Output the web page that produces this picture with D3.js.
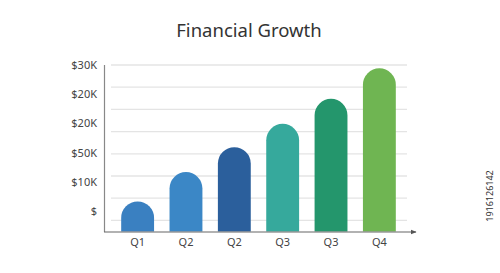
<!DOCTYPE html>
<html>
<head>
<meta charset="utf-8">
<script src="https://cdn.jsdelivr.net/npm/d3@7"></script>
<style>
  body { margin: 0; background: #fff; }
  text { font-family: "Noto Sans", "Open Sans", sans-serif; }
</style>
</head>
<body>
<div id="chart"></div>
<script>
// chart data
var quarters = ["Q1", "Q2", "Q2", "Q3", "Q3", "Q4"];
var values = [5.4, 10.7, 15.2, 19.4, 23.9, 29.4];
var barColors = ["#3a80c1", "#3b87c6", "#2b5f9c", "#36a99c", "#24966c", "#6fb552"];
var tickLabels = ["$", "$10K", "$50K", "$20K", "$20K", "$30K"];
var gridValues = [2, 6, 10, 14, 18, 22, 26, 30];

var svgWidth = 500;
var svgHeight = 273;

var svg = d3.select("#chart")
    .append("svg")
    .attr("width", svgWidth)
    .attr("height", svgHeight);

var baseY = 231.5;

var xScale = d3.scaleBand()
    .domain(d3.range(quarters.length))
    .range([112, 405])
    .paddingInner(0.32)
    .paddingOuter(0.19);

var yScale = d3.scaleLinear()
    .domain([0, 30])
    .range([baseY, 65]);

// tick labels sit on their own even spacing
var labelScale = d3.scalePoint()
    .domain(d3.range(tickLabels.length))
    .range([211, 65]);

// title
svg.append("text")
    .attr("x", 249)
    .attr("y", 37)
    .attr("text-anchor", "middle")
    .attr("font-size", "18.5px")
    .attr("fill", "#333")
    .text("Financial Growth");

// gridlines
svg.append("g").selectAll("line")
    .data(gridValues)
    .enter()
    .append("line")
    .attr("x1", 111)
    .attr("x2", 407)
    .attr("y1", d => yScale(d))
    .attr("y2", d => yScale(d))
    .attr("stroke", "#e4e4e4")
    .attr("stroke-width", 1.3);

// y labels
var leftAxis = d3.axisLeft(labelScale)
    .tickFormat(i => tickLabels[i])
    .tickSize(0)
    .tickPadding(0);

var yAxisG = svg.append("g")
    .attr("transform", "translate(97,0)")
    .call(leftAxis);
yAxisG.select(".domain").remove();
yAxisG.selectAll("text")
    .attr("font-size", "11px")
    .attr("fill", "#444")
    .style("font-family", "'Noto Sans', 'Open Sans', sans-serif");

// bars with rounded tops
function barPath(i) {
    var x0 = xScale(i);
    var w = xScale.bandwidth();
    var r = w / 2;
    var top = yScale(values[i]);
    return "M" + x0 + "," + baseY +
        "L" + x0 + "," + (top + r) +
        "A" + r + "," + r + " 0 0 1 " + (x0 + w) + "," + (top + r) +
        "L" + (x0 + w) + "," + baseY + "Z";
}

svg.append("g").selectAll("path")
    .data(d3.range(values.length))
    .enter()
    .append("path")
    .attr("d", d => barPath(d))
    .attr("fill", d => barColors[d]);

// axes lines
svg.append("defs").append("marker")
    .attr("id", "arrow")
    .attr("viewBox", "0 0 10 10")
    .attr("refX", 9)
    .attr("refY", 5)
    .attr("markerWidth", 5)
    .attr("markerHeight", 5)
    .attr("orient", "auto")
    .append("path")
    .attr("d", "M0,1L10,5L0,9Z")
    .attr("fill", "#555");

svg.append("line")
    .attr("x1", 104.5)
    .attr("x2", 104.5)
    .attr("y1", 65)
    .attr("y2", baseY + 0.5)
    .attr("stroke", "#888")
    .attr("stroke-width", 1.2);

svg.append("line")
    .attr("x1", 104)
    .attr("x2", 416)
    .attr("y1", baseY + 0.5)
    .attr("y2", baseY + 0.5)
    .attr("stroke", "#666")
    .attr("stroke-width", 1.2)
    .attr("marker-end", "url(#arrow)");

// x labels
var bottomAxis = d3.axisBottom(xScale)
    .tickFormat(i => quarters[i])
    .tickSize(0)
    .tickPadding(0);

var xAxisG = svg.append("g")
    .attr("transform", "translate(0,238)")
    .call(bottomAxis);
xAxisG.select(".domain").remove();
xAxisG.selectAll("text")
    .attr("font-size", "11px")
    .attr("fill", "#444")
    .style("font-family", "'Noto Sans', 'Open Sans', sans-serif");

// stock id along the right edge
svg.append("text")
    .attr("transform", "translate(493,196) rotate(-90)")
    .attr("text-anchor", "middle")
    .attr("font-size", "9px")
    .attr("fill", "#333")
    .text("1916126142");
</script>
</body>
</html>
